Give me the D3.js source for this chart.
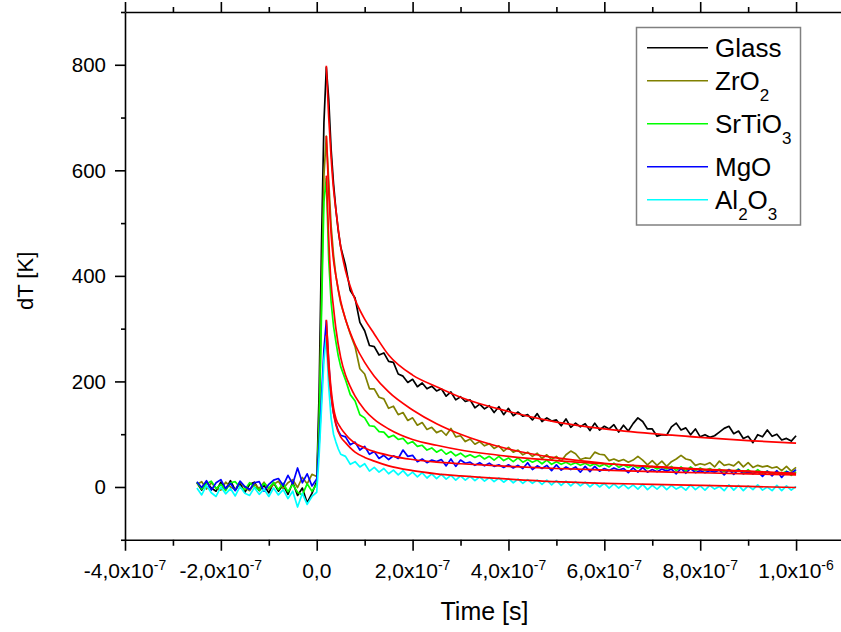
<!DOCTYPE html>
<html>
<head>
<meta charset="utf-8">
<script src="https://cdn.jsdelivr.net/npm/d3@7"></script>
<style>
  html, body { margin: 0; padding: 0; background: #fff; }
  svg { display: block; font-family: Arial, "Liberation Sans", sans-serif; }
</style>
</head>
<body>
<svg id="chart" width="841" height="632"></svg>
<script>
// ---------------- DATA ----------------
// time in ns
const timeNs = [
  -250,-240,-230,-220,-210,-200,-190,-180,-170,-160,-150,-140,-130,-120,-110,-100,-90,-80,-70,-60,-50,-40,-30,-20,-10,
  0,5,10,15,20,25,30,35,40,45,50,
  60,70,80,90,100,110,120,130,140,150,
  160,170,180,190,200,210,220,230,240,250,
  260,270,280,290,300,310,320,330,340,350,
  360,370,380,390,400,410,420,430,440,450,
  460,470,480,490,500,510,520,530,540,550,
  560,570,580,590,600,610,620,630,640,650,
  660,670,680,690,700,710,720,730,740,750,
  760,770,780,790,800,810,820,830,840,850,
  860,870,880,890,900,910,920,930,940,950,
  960,970,980,990,1000
];
const glass = [
  8,-6,10,-2,-8,9,-4,12,-6,7,-10,5,9,-7,3,-11,8,-8,4,-14,9,-16,-2,-30,-12,
  10,180,460,690,795,735,640,575,525,485,455,
  420,372,358,312,296,268,266,250,254,238,
  236,214,210,198,204,190,197,186,191,182,
  186,172,180,165,171,162,165,150,157,148,
  154,141,152,137,149,135,142,134,137,127,
  139,124,131,125,127,116,129,113,121,114,
  120,107,121,108,115,110,118,104,117,106,
  120,131,124,110,110,96,99,98,114,121,
  108,112,99,110,95,99,94,97,104,111,
  115,101,106,92,96,84,99,95,108,96,
  100,89,92,87,97
];
const zro2 = [
  5,10,-4,8,-2,-6,9,0,-5,10,-1,-7,6,-3,9,-4,5,11,-3,8,14,-1,18,6,24,
  20,120,360,590,665,580,495,440,400,372,348,
  318,290,266,224,214,186,186,170,167,149,
  153,137,141,126,131,117,122,109,113,103,
  107,98,111,95,97,86,91,81,86,78,
  82,73,78,68,75,66,70,61,66,58,
  64,54,61,52,58,49,61,68,63,52,
  55,54,66,62,61,50,53,49,52,47,
  51,58,51,42,50,41,49,39,48,53,
  60,53,51,41,44,42,46,38,49,41,
  43,40,48,38,46,37,41,38,40,36,
  38,31,39,30,37
];
const srtio3 = [
  9,-4,6,11,-3,5,-7,8,10,-1,-5,8,0,-6,7,-2,9,-5,7,-9,5,-10,-15,6,-8,
  5,110,330,540,585,430,350,305,275,248,228,
  203,175,163,137,131,116,115,105,104,94,
  98,90,92,82,86,77,79,70,74,66,
  71,62,67,59,64,57,61,56,60,53,
  58,51,58,50,55,48,55,47,52,47,
  51,44,51,43,48,43,47,42,46,41,
  45,40,44,39,43,38,45,37,42,37,
  41,36,40,35,39,34,38,34,39,31,
  38,30,38,31,36,31,35,30,34,29,
  33,29,34,26,33,25,33,26,30,25,
  29,25,30,22,29
];
const mgo = [
  10,-1,12,-6,8,14,-3,7,-7,11,1,-5,8,10,-8,5,13,16,3,22,6,36,8,25,2,
  15,80,170,260,315,235,172,140,120,106,98,
  95,80,85,70,77,62,67,54,60,52,
  59,54,70,58,60,48,53,46,51,48,
  52,40,53,39,51,45,47,41,46,40,
  45,39,42,37,42,36,41,35,46,33,
  40,35,41,31,42,32,38,33,38,28,
  39,29,39,30,35,31,36,32,35,27,
  36,28,37,28,33,29,34,30,34,25,
  35,26,35,27,31,27,31,28,32,23,
  33,24,33,25,28,25,29,20,30,21,
  31,18,29,26,33
];
const al2o3 = [
  -2,-15,3,-11,-18,0,-13,-3,-17,1,-12,-16,-1,-14,-4,-18,-2,-15,-5,-22,-8,-38,-12,-33,-18,
  -10,60,150,240,285,190,130,100,85,72,62,
  58,43,48,38,44,30,37,28,35,25,
  32,23,31,21,28,19,27,17,25,16,
  24,15,22,13,21,13,20,12,19,11,
  18,10,17,9,16,8,15,7,14,7,
  13,5,13,4,12,3,11,2,10,2,
  9,0,8,0,7,-2,6,-2,5,-3,
  4,-4,5,-5,3,-4,4,-5,3,-4,
  1,-6,4,-5,2,-6,3,-4,1,-7,
  4,-6,3,-7,2,-5,4,-6,0,-7,
  3,-7,2,-6,1
];
// fitted curves (red)
const fitTimeNs = [20,25,30,35,40,50,60,70,80,100,120,150,200,250,300,400,500,600,700,800,900,1000];
const fitGlass  = [798,700,625,565,525,455,410,380,355,318,290,250,212,190,170,143,123,110,101,94,88,83];
const fitZrO2   = [665,560,480,430,400,352,318,292,270,236,210,180,146,120,100,72,55,45,38,33,29,25];
const fitSrTiO3 = [590,470,385,340,300,245,212,190,172,146,128,110,90,79,70,58,50,44,39,34,30,26];
const fitMgO    = [317,240,185,150,130,112,100,90,83,74,67,60,52,47,44,39,35,32,29,27,25,23];
const fitAl2O3  = [288,220,175,140,118,95,84,74,66,56,49,40,31,25,21,15,10,7,5,3,1,-1];

const seriesNames = ["Glass","ZrO2","SrTiO3","MgO","Al2O3"];
const seriesColors = ["#000000","#808000","#00ff00","#0000ff","#00ffff"];
const fitColor = "#ff0000";
// legend label parts: even index = normal, odd index = subscript
const legendParts = [["Glass"],["ZrO","2"],["SrTiO","3"],["MgO"],["Al","2","O","3"]];

const xMajor = [-4e-7,-2e-7,0,2e-7,4e-7,6e-7,8e-7,1e-6];
const xMinor = [-3e-7,-1e-7,1e-7,3e-7,5e-7,7e-7,9e-7];
const xTickMain = ["-4,0x10","-2,0x10","0,0","2,0x10","4,0x10","6,0x10","8,0x10","1,0x10"];
const xTickExp  = ["-7","-7","","-7","-7","-7","-7","-6"];
const yMajor = [0,200,400,600,800];
const yMinor = [-100,100,300,500,700,900];
const yTickLabels = ["0","200","400","600","800"];

// ---------------- LAYOUT ----------------
const svg = d3.select("#chart");
const L = 125, R = 844, T = 12, B = 539.75;
const x = d3.scaleLinear().domain([-4e-7, 1.1e-6]).range([L, R]);
const y = d3.scaleLinear().domain([-100, 900]).range([B, T]);

// ---------------- DATA LINES ----------------
const dataSets = [glass, zro2, srtio3, mgo, al2o3];
const fitSets = [fitGlass, fitZrO2, fitSrTiO3, fitMgO, fitAl2O3];

const line = d3.line().x(d => x(d[0] * 1e-9)).y(d => y(d[1]));
const fitLine = d3.line().x(d => x(d[0] * 1e-9)).y(d => y(d[1])).curve(d3.curveMonotoneX);

const gData = svg.append("g");
dataSets.forEach((vals, i) => {
  gData.append("path")
    .datum(timeNs.map((t, k) => [t, vals[k]]))
    .attr("fill", "none")
    .attr("stroke", seriesColors[i])
    .attr("stroke-width", 1.7)
    .attr("stroke-linejoin", "round")
    .attr("d", line);
});
fitSets.forEach((vals) => {
  gData.append("path")
    .datum(fitTimeNs.map((t, k) => [t, vals[k]]))
    .attr("fill", "none")
    .attr("stroke", fitColor)
    .attr("stroke-width", 1.7)
    .attr("d", fitLine);
});

// ---------------- AXES ----------------
const axW = 1.6;
function styleAxis(g, keepDomain) {
  g.selectAll("line").attr("stroke", "#000").attr("stroke-width", axW);
  g.select(".domain").attr("stroke", keepDomain ? "#000" : "none").attr("stroke-width", axW);
  g.selectAll("text").remove();
}
// bottom
svg.append("g").attr("transform", `translate(0,${B})`)
  .call(d3.axisBottom(x).tickValues(xMinor).tickSize(6).tickSizeOuter(0).tickFormat(""))
  .call(g => styleAxis(g, false));
svg.append("g").attr("transform", `translate(0,${B})`)
  .call(d3.axisBottom(x).tickValues(xMajor).tickSize(11).tickSizeOuter(0).tickFormat(""))
  .call(g => styleAxis(g, true));
// top
svg.append("g").attr("transform", `translate(0,${T})`)
  .call(d3.axisTop(x).tickValues(xMinor).tickSize(5).tickSizeOuter(0).tickFormat(""))
  .call(g => styleAxis(g, false));
svg.append("g").attr("transform", `translate(0,${T})`)
  .call(d3.axisTop(x).tickValues(xMajor).tickSize(10).tickSizeOuter(0).tickFormat(""))
  .call(g => styleAxis(g, true));
// left
svg.append("g").attr("transform", `translate(${L},0)`)
  .call(d3.axisLeft(y).tickValues(yMinor).tickSize(4).tickSizeOuter(0).tickFormat(""))
  .call(g => styleAxis(g, false));
svg.append("g").attr("transform", `translate(${L},0)`)
  .call(d3.axisLeft(y).tickValues(yMajor).tickSize(10).tickSizeOuter(0).tickFormat(""))
  .call(g => styleAxis(g, true));

// x tick labels with superscripts
const xl = svg.append("g");
xMajor.forEach((v, i) => {
  const t = xl.append("text")
    .attr("x", x(v)).attr("y", 577.5)
    .attr("text-anchor", "middle")
    .attr("font-size", 21).attr("fill", "#000");
  t.append("tspan").text(xTickMain[i]);
  if (xTickExp[i]) {
    t.append("tspan").attr("dy", -8).attr("font-size", 14).text(xTickExp[i]);
  }
});
// y tick labels
yMajor.forEach((v, i) => {
  svg.append("text")
    .attr("x", 106).attr("y", y(v)).attr("dy", "0.35em")
    .attr("text-anchor", "end")
    .attr("font-size", 20.5).attr("fill", "#000")
    .text(yTickLabels[i]);
});

// axis titles
svg.append("text")
  .attr("x", (L + R) / 2).attr("y", 620)
  .attr("text-anchor", "middle").attr("font-size", 25)
  .text("Time [s]");
svg.append("text")
  .attr("transform", `translate(33,${(T + B) / 2 + 5}) rotate(-90)`)
  .attr("text-anchor", "middle").attr("font-size", 22)
  .text("dT [K]");

// ---------------- LEGEND ----------------
const lg = svg.append("g");
const rowY = [];
let yy = 47.7;
legendParts.forEach((p) => {
  rowY.push(yy);
  yy += 33 + (p.length > 1 ? 10 : 0);
});
lg.append("rect")
  .attr("x", 636.5).attr("y", 27.5)
  .attr("width", 164).attr("height", 197.5)
  .attr("fill", "#fff").attr("stroke", "#808080").attr("stroke-width", 1.5);
legendParts.forEach((parts, i) => {
  lg.append("line")
    .attr("x1", 647).attr("x2", 708)
    .attr("y1", rowY[i]).attr("y2", rowY[i])
    .attr("stroke", seriesColors[i]).attr("stroke-width", 1.6);
  const t = lg.append("text")
    .attr("x", 715).attr("y", rowY[i] + 9)
    .attr("font-size", 26).attr("fill", "#000");
  let shifted = false;
  parts.forEach((s, k) => {
    const ts = t.append("tspan").text(s);
    if (k % 2 === 1) { ts.attr("font-size", 17).attr("dy", 11); shifted = true; }
    else if (shifted) { ts.attr("dy", -11); shifted = false; }
  });
});
</script>
</body>
</html>
